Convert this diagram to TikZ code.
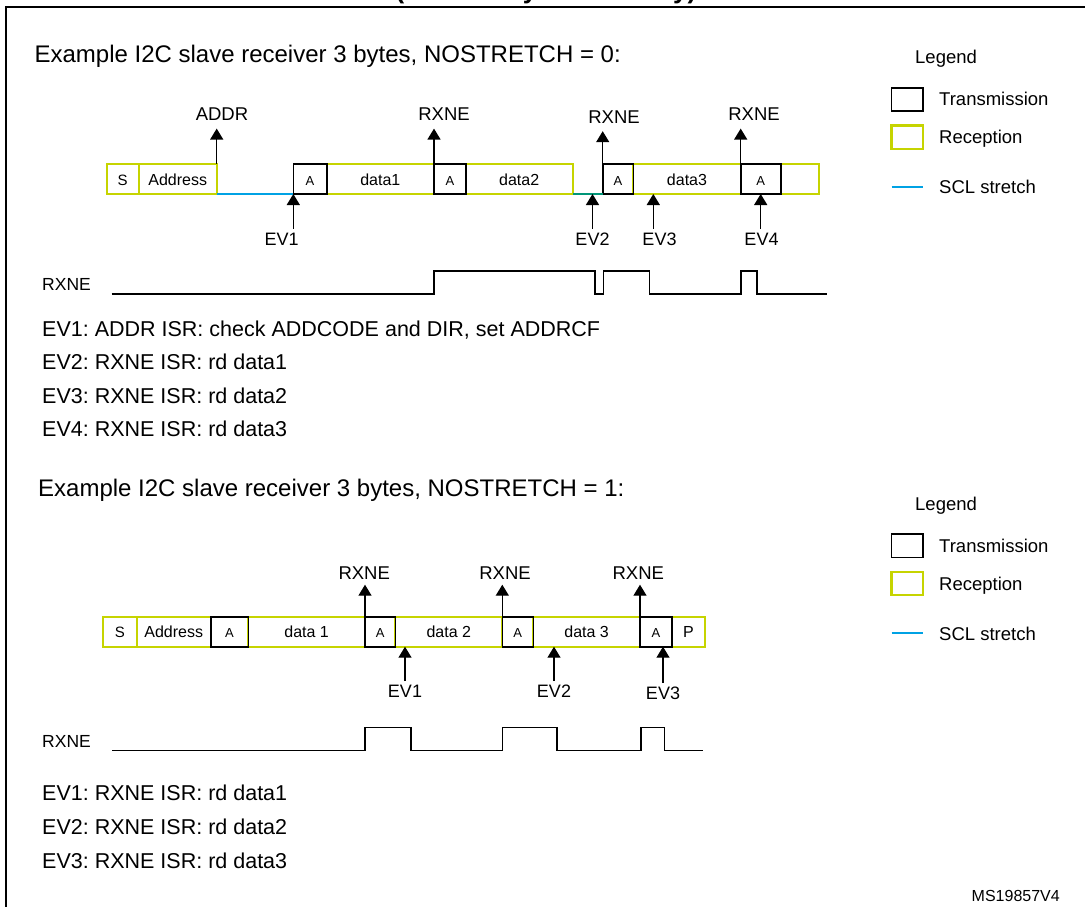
\documentclass[tikz,border=0pt]{standalone}
\usepackage{fontspec}
\setmainfont{Liberation Sans}
\usetikzlibrary{arrows.meta}
\definecolor{rxyellow}{RGB}{198,212,0}
\definecolor{sclblue}{RGB}{0,162,228}
\definecolor{sclteal}{RGB}{0,150,120}
\tikzset{
  frame/.style={line width=2pt},
  title/.style={font=\bfseries\fontsize{26}{30}\selectfont,anchor=base,inner sep=0pt},
  head/.style={font=\fontsize{24}{28}\selectfont,anchor=base west,inner sep=0pt},
  note/.style={font=\fontsize{21.5}{25}\selectfont,anchor=base west,inner sep=0pt},
  rx/.style={draw=rxyellow,line width=1.8pt,minimum height=30pt,inner sep=0pt,outer sep=0pt,
    anchor=west,text height=12pt,text depth=0pt,font=\fontsize{16}{18}\selectfont},
  tx/.style={rx,draw=black,line width=1.6pt,font=\fontsize{13}{15}\selectfont},
  sclline/.style={draw=sclblue,line width=2pt},
  evarrow/.style={-{Triangle[width=13pt,length=11pt]},line width=1.4pt},
  uplbl/.style={font=\fontsize{18.5}{22}\selectfont,anchor=base,inner xsep=0pt,inner ysep=8pt},
  dnlbl/.style={font=\fontsize{18}{22}\selectfont,anchor=base,inner xsep=0pt,inner ysep=3.5pt},
  siglbl/.style={font=\fontsize{17.5}{20}\selectfont,anchor=base west,inner sep=0pt},
  wave/.style={line width=1.6pt},
  lgd/.style={font=\fontsize{18.5}{22}\selectfont,anchor=base west,inner sep=0pt},
  lgdbox/.style={minimum width=31.8pt,minimum height=23.3pt,inner sep=0pt,outer sep=0pt}
}
\frenchspacing
\begin{document}
\begin{tikzpicture}[x=1pt,y=-1pt]
\useasboundingbox (0,0) rectangle (1085,907);
\begin{scope}
  \clip (0,0) rectangle (1085,907);
  \node[title] (ttl) at (546,-1.5) {(mandatory events only)};
\end{scope}
\draw[frame] (6,907) -- (6,7) -- (1085,7);

% NOSTRETCH = 0
\node[head] (h0) at (34.4,62.5) {Example I2C slave receiver 3 bytes, NOSTRETCH = 0:};
\node[rx,minimum width=32pt,font=\fontsize{15}{17}\selectfont] (s0) at (106.7,179) {S};
\node[rx,minimum width=78pt] (ad0) at (138.7,179) {Address};
\node[rx,minimum width=107.3pt] (d01) at (326.7,179) {data1};
\node[rx,minimum width=107pt] (d02) at (465.7,179) {data2};
\node[rx,minimum width=107.4pt] (d03) at (633.3,179) {data3};
\node[rx,minimum width=38.6pt] (e0) at (780.7,179) {};
\node[tx,minimum width=33.4pt] (a01) at (293.3,179) {A};
\node[tx,minimum width=31.7pt] (a02) at (434,179) {A};
\node[tx,minimum width=30.6pt] (a03) at (602.7,179) {A};
\node[tx,minimum width=40pt] (a04) at (740.7,179) {A};
\draw[sclline,line width=1.6pt] (ad0.south east) -- (a01.south west);
\draw[sclline,line width=1.6pt,draw=sclteal] (d02.south east) -- (a03.south west);

\node[uplbl] (addr0) at (222,120.4) {ADDR};
\node[uplbl] (rx01) at (444,120.4) {RXNE};
\node[uplbl] (rx02) at (614,123) {RXNE};
\node[uplbl] (rx03) at (754,120.4) {RXNE};
\draw[evarrow] (ad0.north east) -- (ad0.north east |- addr0.south);
\draw[evarrow] (d01.north east) -- (d01.north east |- rx01.south);
\draw[evarrow] (a03.north west) -- (a03.north west |- rx02.south);
\draw[evarrow] (a04.north west) -- (a04.north west |- rx03.south);

\node[dnlbl] (ev01) at (281.7,245) {EV1};
\node[dnlbl] (ev02) at (592.5,245) {EV2};
\node[dnlbl] (ev03) at (659.5,245) {EV3};
\node[dnlbl] (ev04) at (761.5,245) {EV4};
\coordinate (p03) at (653.3,194);
\draw[evarrow] (a01.south west |- ev01.north) -- (a01.south west);
\draw[evarrow] (ev02.north) -- (ev02.north |- a03.south);
\draw[evarrow] (p03 |- ev03.north) -- (p03);
\draw[evarrow] (a04.south |- ev04.north) -- (a04.south);

\node[siglbl] (sig0) at (42,290) {RXNE};
\draw[wave] (111.7,294) -- (434,294) -- (434,270.7) -- (595,270.7) -- (595,294)
  -- (603.3,294) -- (603.3,270.7) -- (649.3,270.7) -- (649.3,294) -- (741,294)
  -- (741,270.7) -- (756.7,270.7) -- (756.7,294) -- (826.7,294);

\node[note] (n01) at (42,336) {EV1: ADDR ISR: check ADDCODE and DIR, set ADDRCF};
\node[note] (n02) at (42,369.5) {EV2: RXNE ISR: rd data1};
\node[note] (n03) at (42,403) {EV3: RXNE ISR: rd data2};
\node[note] (n04) at (42,436.5) {EV4: RXNE ISR: rd data3};

% NOSTRETCH = 1
\node[head] (h1) at (38,496) {Example I2C slave receiver 3 bytes, NOSTRETCH = 1:};
\node[rx,minimum width=33.4pt,font=\fontsize{15}{17}\selectfont] (s1) at (103.3,631.7) {S};
\node[rx,minimum width=74pt] (ad1) at (136.7,631.7) {Address};
\node[rx,minimum width=116.7pt] (d11) at (248.3,631.7) {data 1};
\node[rx,minimum width=107pt] (d12) at (395.3,631.7) {data 2};
\node[rx,minimum width=106.7pt] (d13) at (533.3,631.7) {data 3};
\node[rx,minimum width=33.3pt] (p1) at (671.7,631.7) {P};
\node[tx,minimum width=37.6pt] (a10) at (210.7,631.7) {A};
\node[tx,minimum width=30.3pt] (a11) at (365,631.7) {A};
\node[tx,minimum width=31pt] (a12) at (502.3,631.7) {A};
\node[tx,minimum width=31.7pt] (a13) at (640,631.7) {A};

\node[uplbl,inner ysep=5pt] (rx11) at (364.2,579.5) {RXNE};
\node[uplbl,inner ysep=5pt] (rx12) at (505,579.5) {RXNE};
\node[uplbl,inner ysep=5pt] (rx13) at (638.3,579.5) {RXNE};
\draw[evarrow] (a11.north west) -- (a11.north west |- rx11.south);
\draw[evarrow] (a12.north west) -- (a12.north west |- rx12.south);
\draw[evarrow] (a13.north west) -- (a13.north west |- rx13.south);

\node[dnlbl] (ev11) at (405,697.3) {EV1};
\node[dnlbl] (ev12) at (554,697.3) {EV2};
\node[dnlbl] (ev13) at (663,699) {EV3};
\draw[evarrow] (ev11.north) -- (ev11.north |- d12.south);
\draw[evarrow] (ev12.north) -- (ev12.north |- d13.south);
\draw[evarrow] (ev13.north) -- (ev13.north |- a13.south);

\node[siglbl] (sig1) at (42,747) {RXNE};
\draw[wave] (112,750.6) -- (365,750.6) -- (365,727.3) -- (411,727.3) -- (411,750.6)
  -- (502.3,750.6) -- (502.3,727.3) -- (556.7,727.3) -- (556.7,750.6) -- (641,750.6)
  -- (641,727.3) -- (664.3,727.3) -- (664.3,750.6) -- (703,750.6);

\node[note] (n11) at (42,800.5) {EV1: RXNE ISR: rd data1};
\node[note] (n12) at (42,834.5) {EV2: RXNE ISR: rd data2};
\node[note] (n13) at (42,868.5) {EV3: RXNE ISR: rd data3};

% legend, top
\node[lgd] (lega) at (915,63.5) {Legend};
\node[lgdbox,draw=black,line width=1.8pt] (ltxa) at (907.4,99.35) {};
\node[lgdbox,draw=rxyellow,line width=2.2pt] (lrxa) at (907.4,137.1) {};
\node[lgd] (ttxa) at (939,105.5) {Transmission};
\node[lgd] (trxa) at (939,143.5) {Reception};
\node[lgd] (tsca) at (939,193.5) {SCL stretch};
\draw[sclline] (891.5,187) -- (923.3,187);

% legend, bottom
\node[lgd] (legb) at (915,510) {Legend};
\node[lgdbox,draw=black,line width=1.8pt] (ltxb) at (907.4,545.85) {};
\node[lgdbox,draw=rxyellow,line width=2.2pt] (lrxb) at (907.4,583.6) {};
\node[lgd] (ttxb) at (939,552) {Transmission};
\node[lgd] (trxb) at (939,590) {Reception};
\node[lgd] (tscb) at (939,640) {SCL stretch};
\draw[sclline] (891.5,633) -- (923.3,633);

\node[font=\fontsize{16}{18}\selectfont,anchor=base east,inner sep=0pt] (ref) at (1060,901.5) {MS19857V4};
\end{tikzpicture}
\end{document}
